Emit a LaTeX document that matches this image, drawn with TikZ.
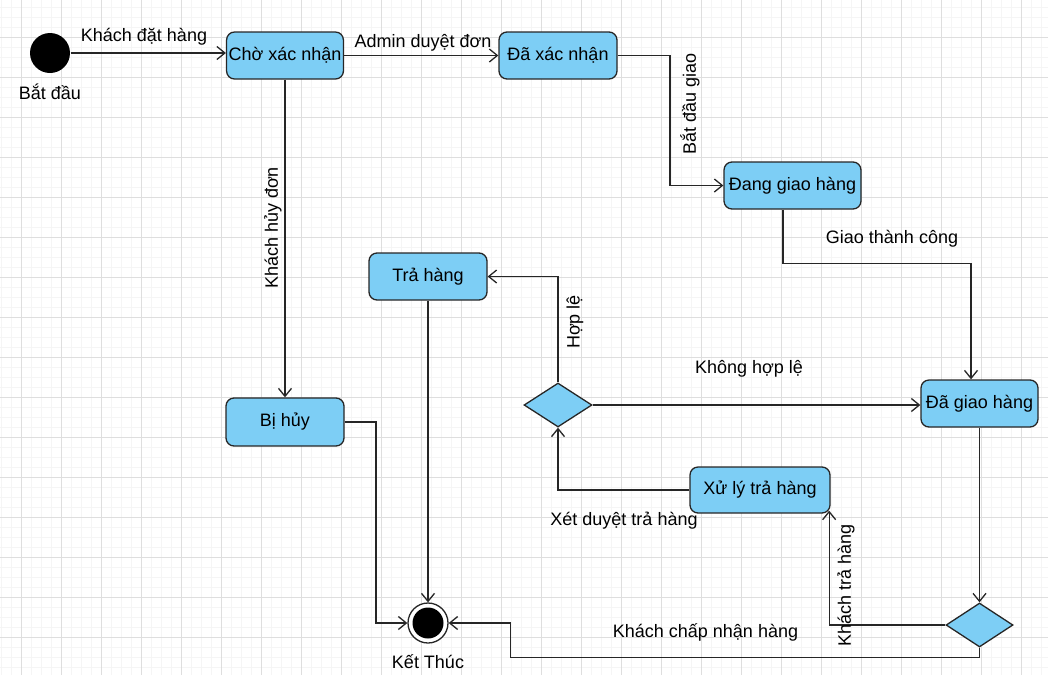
\documentclass[tikz,border=0pt]{standalone}
\usepackage{fontspec}
\setmainfont{Liberation Sans}
\usepackage{xcolor}
\usetikzlibrary{arrows.meta,shapes.geometric}
\definecolor{stateBlue}{RGB}{125,206,245}
\definecolor{gridMajor}{RGB}{222,222,222}
\definecolor{gridMinor}{RGB}{245,245,245}

\begin{document}
\begin{tikzpicture}[x=1pt, y=-1pt, line width=1.3pt,
	font=\fontsize{18}{21}\selectfont,
	state/.style={draw=black!85, fill=stateBlue, rounded corners=8pt, minimum width=118pt, minimum height=47pt, inner sep=2pt},
	choice/.style={diamond, draw=black!85, fill=stateBlue, minimum width=68pt, minimum height=44pt, inner sep=0pt},
	trans/.style={draw=black!85, -{Straight Barb[length=8pt,width=13pt]}},
	lbl/.style={inner sep=0pt}]
	\useasboundingbox (0,0) rectangle (1048,675);
	% background grid
	\foreach \gx in {1,11,...,1041} \draw[gridMinor, line width=0.6pt] (\gx,0) -- (\gx,675);
	\foreach \gy in {7,17,...,667} \draw[gridMinor, line width=0.6pt] (0,\gy) -- (1048,\gy);
	\foreach \gx in {21,61,...,1021} \draw[gridMajor, line width=0.8pt] (\gx,0) -- (\gx,675);
	\foreach \gy in {37,77,...,637} \draw[gridMajor, line width=0.8pt] (0,\gy) -- (1048,\gy);

	% states
	\node[circle, fill=black, minimum size=40pt, inner sep=0pt] (start) at (50,53) {};
	\node[state, minimum width=116pt] (cxn) at (285,55.5) {Chờ xác nhận};
	\node[state] (dxn) at (558,55.5) {Đã xác nhận};
	\node[state, minimum width=137pt] (dgh) at (792.5,185.5) {Đang giao hàng};
	\node[state, minimum width=117pt] (dgiao) at (979.5,403.5) {Đã giao hàng};
	\node[state] (tra) at (428,276.5) {Trả hàng};
	\node[state, minimum height=48pt] (huy) at (285,422) {Bị hủy};
	\node[state, minimum width=140pt, minimum height=46pt] (xly) at (760,490) {Xử lý trả hàng};
	\node[choice] (hl) at (558,405) {};
	\node[choice, minimum width=67pt] (nhan) at (979.5,625) {};
	\node[circle, draw=black!85, fill=white, minimum size=40pt, inner sep=0pt] (fin) at (428,623) {};
	\fill[black] (fin.center) circle[radius=15.5pt];

	% transitions
	\draw[trans] (start) -- (start -| cxn.west);
	\draw[trans] (cxn.east) -- (dxn.west);
	\draw[trans] (dxn.east) -- (670,55.5) |- (dgh.west);
	\draw[trans] ([xshift=-9.5pt]dgh.south) -- ++(0,54) -| ([xshift=-8.5pt]dgiao.north);
	\draw[trans] (cxn.south) -- (huy.north);
	\draw[trans] (huy.east) -- (376,422) |- (fin.west);
	\draw[trans] (tra.south) -- (fin.north);
	\draw[trans] (dgiao.south) -- (nhan.north);
	\draw[trans] (nhan.south) -- ++(0,10) -| (510.5,623) -- (fin.east);
	\draw[trans] (nhan.west) -| ([xshift=-1.5pt,yshift=3pt]xly.south east);
	\draw[trans] (xly.west) -| (hl.south);
	\draw[trans] (hl.east) -- (hl.east -| dgiao.west);
	\draw[trans] (hl.north) |- (tra.east);

	% labels
	\node[lbl] (lstart) at (50,92) {Bắt đầu};
	\node[lbl] (lfin) at (428,662) {Kết Thúc};
	\node[lbl] (ldat) at (144,37) {Khách đặt hàng};
	\node[lbl] (lduyet) at (423,43) {Admin duyệt đơn};
	\node[lbl, rotate=90] (lgiao) at (690,104) {Bắt đầu giao};
	\node[lbl] (lthanh) at (892,239) {Giao thành công};
	\node[lbl, rotate=90] (lhuy) at (273,228) {Khách hủy đơn};
	\node[lbl, rotate=90] (lhople) at (575,322) {Hợp lệ};
	\node[lbl] (lkhong) at (749,369) {Không hợp lệ};
	\node[lbl] (lxet) at (624,521) {Xét duyệt trả hàng};
	\node[lbl, rotate=90] (ltra) at (846,585) {Khách trả hàng};
	\node[lbl] (lchap) at (705.5,632) {Khách chấp nhận hàng};
\end{tikzpicture}
\end{document}
